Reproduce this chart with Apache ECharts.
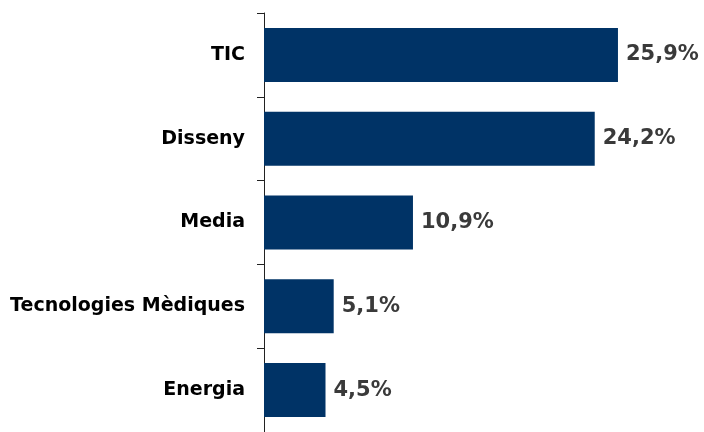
<!DOCTYPE html>
<html><head><meta charset="utf-8">
<script src="https://cdn.jsdelivr.net/npm/echarts@6/dist/echarts.min.js"></script>
<style>html,body{margin:0;padding:0;background:#fff}#c{width:704px;height:432px}</style>
</head><body><div id="c"></div>
<script>
const categories = ["TIC", "Disseny", "Media", "Tecnologies Mèdiques", "Energia"];
const values = [25.9, 24.2, 10.9, 5.1, 4.5];
const labels = ["25,9%", "24,2%", "10,9%", "5,1%", "4,5%"];

const chart = echarts.init(document.getElementById('c'), null, {renderer: 'canvas'});
chart.setOption({
  animation: false,
  grid: {left: 264, top: 13, width: 410, height: 425, containLabel: false},
  xAxis: {type: 'value', min: 0, max: 30, show: false},
  yAxis: {
    type: 'category', data: categories, inverse: true,
    axisLine: {show: true, lineStyle: {color: '#222', width: 1}},
    axisTick: {show: true, length: 7, lineStyle: {color: '#222'}},
    axisLabel: {margin: 19, color: '#000', fontFamily: 'DejaVu Sans', fontWeight: 'bold', fontSize: 19, padding: [4, 0, 0, 0]}
  },
  series: [{
    type: 'bar', data: values, barWidth: 54,
    itemStyle: {color: '#003366'},
    label: {
      show: true, position: 'right', distance: 8,
      formatter: p => labels[p.dataIndex],
      color: '#3a3a3a', fontFamily: 'DejaVu Sans', fontWeight: 'bold', fontSize: 21, padding: [4, 0, 0, 0]
    }
  }]
});
</script></body></html>
